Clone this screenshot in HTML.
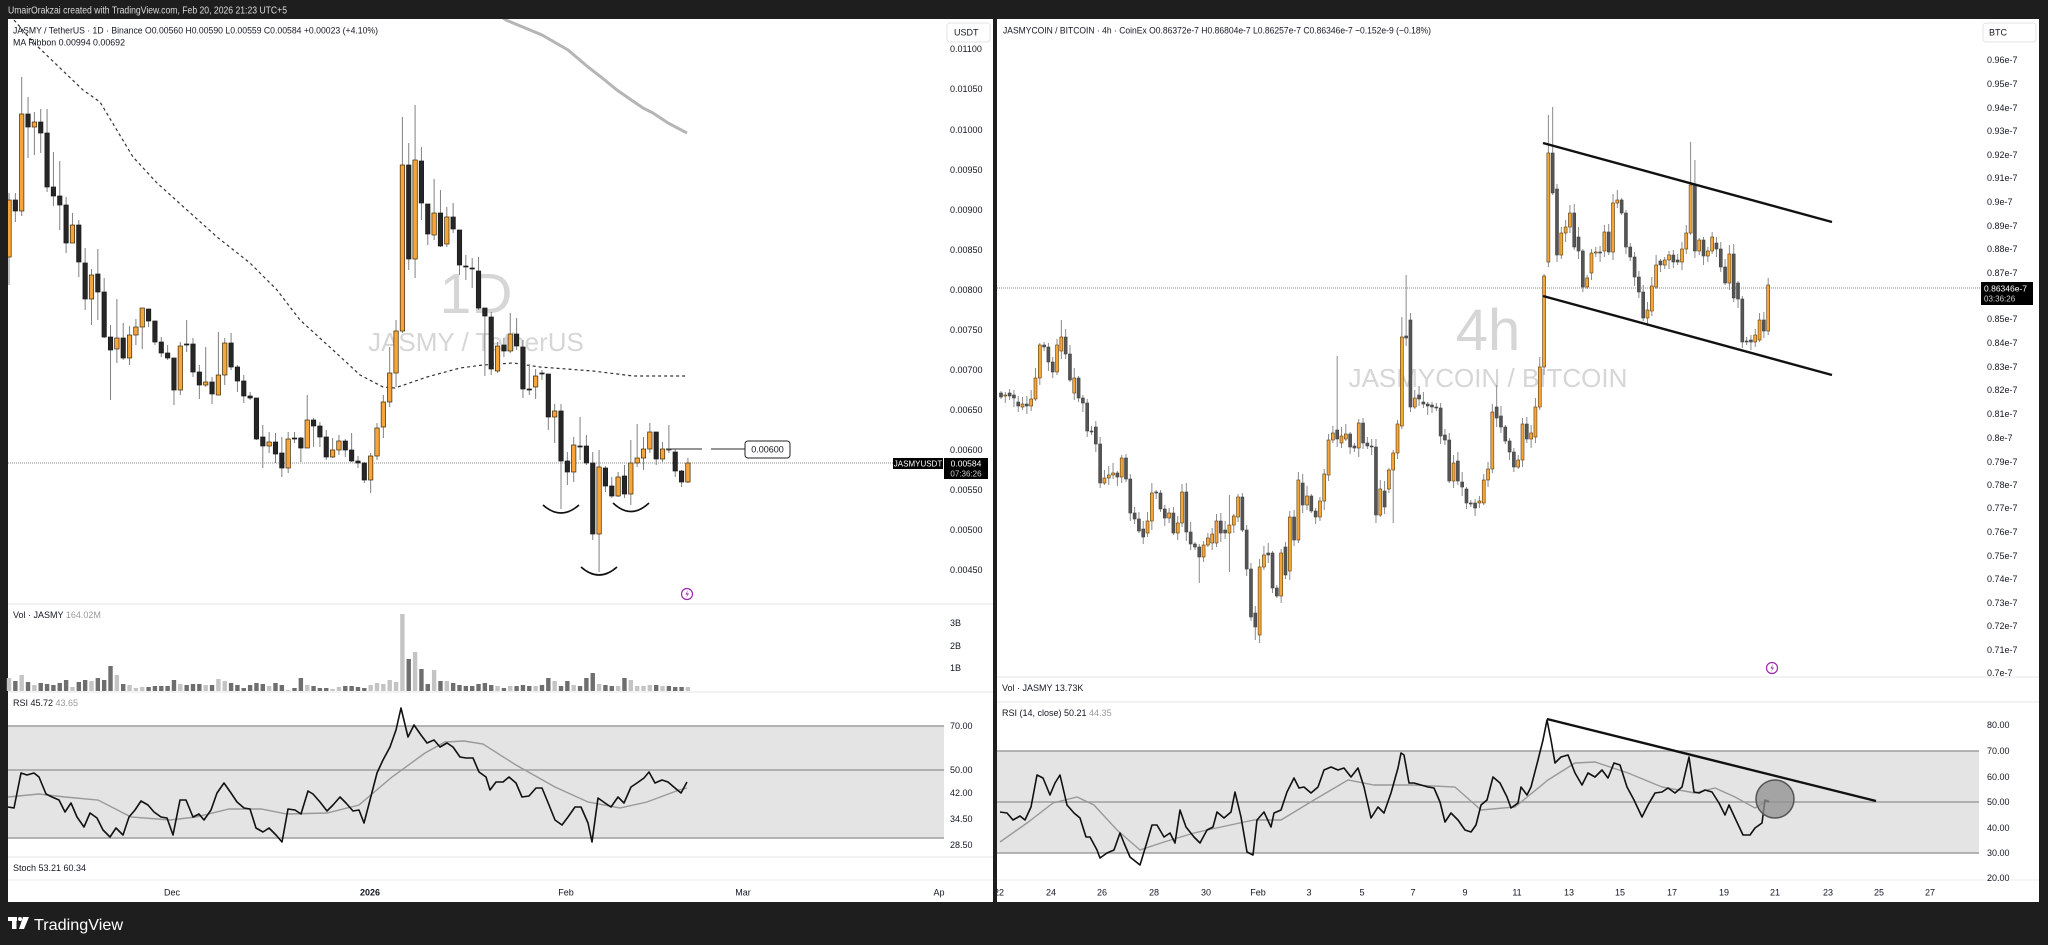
<!DOCTYPE html>
<html><head><meta charset="utf-8"><style>
html,body{margin:0;padding:0;background:#1e1e1e;width:2048px;height:945px;overflow:hidden}
svg{display:block}
text{font-family:"Liberation Sans",sans-serif}
.t{font-size:9px;fill:#131722}
.g{fill:#8a8a8a}
.wm{fill:#d6d6d6}
</style></head><body>
<svg id="s" width="2048" height="945" viewBox="0 0 2048 945" xmlns="http://www.w3.org/2000/svg">
<defs>
<clipPath id="cl"><rect x="8" y="19" width="936" height="585"/></clipPath>
<clipPath id="cr"><rect x="997" y="19" width="984" height="658"/></clipPath>
<clipPath id="crsiL"><rect x="8" y="693" width="985" height="164"/></clipPath>
<clipPath id="cxr"><rect x="997" y="880" width="1042" height="22"/></clipPath>
</defs>
<rect width="2048" height="945" fill="#1e1e1e"/>
<text x="8" y="13.5" font-size="10" fill="#dcdcdc" textLength="279" lengthAdjust="spacingAndGlyphs">UmairOrakzai created with TradingView.com, Feb 20, 2026 21:23 UTC+5</text>

<!-- LEFT PANEL -->
<rect x="8" y="19" width="985" height="883" fill="#ffffff"/>
<line x1="8" y1="604" x2="993" y2="604" stroke="#e6e6e6"/>
<line x1="8" y1="692" x2="993" y2="692" stroke="#e6e6e6"/>
<line x1="8" y1="857" x2="993" y2="857" stroke="#e6e6e6"/>
<line x1="8" y1="880" x2="993" y2="880" stroke="#ededed"/>

<g clip-path="url(#cl)">
<text x="476" y="313" font-size="57" text-anchor="middle" class="wm">1D</text>
<text x="476" y="351" font-size="26" text-anchor="middle" class="wm">JASMY / TetherUS</text>
<polyline fill="none" stroke="#b5b5b5" stroke-width="3" points="500,16 506,20 542,35 568,50 588,67 601,77 617,90 627,97 643,108 653,113 668,123 687,133"/>
<polyline fill="none" stroke="#333" stroke-width="1.2" stroke-dasharray="3,3" points="14,20 33,42 60,68 83,90 100,102 133,157 157,183 187,210 217,237 250,263 277,290 300,320 333,350 360,375 383,387 395,388 427,377 460,368 483,365 513,363 540,367 593,371 633,376 688,376"/>
<line x1="8" y1="463" x2="944" y2="463" stroke="#8a8a8a" stroke-dasharray="1,1"/>
<g id="candL"></g>
<path d="M543,505 Q561,521 579,505" fill="none" stroke="#111" stroke-width="1.6"/>
<path d="M613,503 Q631,520 649,503" fill="none" stroke="#111" stroke-width="1.6"/>
<path d="M581,567 Q599,583 617,567" fill="none" stroke="#111" stroke-width="1.6"/>
<line x1="666" y1="449" x2="702" y2="449" stroke="#555" stroke-width="1.2"/>
<line x1="711" y1="449" x2="745" y2="449" stroke="#555" stroke-width="1.2"/>
<rect x="745" y="441" width="45" height="17" rx="3" fill="#fff" stroke="#222" stroke-width="1"/>
<text x="767.5" y="452.5" font-size="9" text-anchor="middle" fill="#131722">0.00600</text>
<circle cx="687" cy="594" r="5.5" fill="#fff" stroke="#9c27b0" stroke-width="1.2"/>
<path d="M688,590 L685.5,594.5 L687.5,594.5 L686,598 L689,593.5 L687,593.5 Z" fill="#9c27b0"/>
</g>
<text x="13" y="33.5" font-size="9.5" fill="#131722" textLength="365" lengthAdjust="spacingAndGlyphs">JASMY / TetherUS · 1D · Binance  O0.00560  H0.00590  L0.00559  C0.00584  +0.00023 (+4.10%)</text>
<text x="13" y="45.5" font-size="9.5" fill="#131722" textLength="112" lengthAdjust="spacingAndGlyphs">MA Ribbon  0.00994  0.00692</text>

<!-- left price axis -->
<rect x="947" y="23" width="43" height="19" rx="3" fill="#fff" stroke="#e3e3e3"/>
<text x="954" y="35.5" class="t">USDT</text>
<g class="t">
<text x="950" y="52.2">0.01100</text>
<text x="950" y="92.2">0.01050</text>
<text x="950" y="133.2">0.01000</text>
<text x="950" y="173.2">0.00950</text>
<text x="950" y="213.2">0.00900</text>
<text x="950" y="253.2">0.00850</text>
<text x="950" y="293.2">0.00800</text>
<text x="950" y="333.2">0.00750</text>
<text x="950" y="373.2">0.00700</text>
<text x="950" y="413.2">0.00650</text>
<text x="950" y="453.2">0.00600</text>
<text x="950" y="493.2">0.00550</text>
<text x="950" y="533.2">0.00500</text>
<text x="950" y="573.2">0.00450</text>
</g>
<rect x="893" y="458" width="50" height="11" fill="#000"/>
<text x="918" y="466.5" font-size="8" text-anchor="middle" fill="#fff">JASMYUSDT</text>
<rect x="944" y="458" width="44" height="21" fill="#000"/>
<text x="966" y="466.5" font-size="8.5" text-anchor="middle" fill="#fff">0.00584</text>
<text x="966" y="476.5" font-size="8" text-anchor="middle" fill="#cfcfcf">07:36:26</text>

<!-- left volume -->
<g id="volL"></g>
<text x="13" y="618" font-size="9" fill="#131722">Vol · JASMY <tspan fill="#9a9a9a">164.02M</tspan></text>
<text x="950" y="626.2" class="t">3B</text>
<text x="950" y="649.2" class="t">2B</text>
<text x="950" y="671.2" class="t">1B</text>

<!-- left RSI -->
<rect x="8" y="726" width="936" height="112" fill="#e4e4e4"/>
<line x1="8" y1="726" x2="944" y2="726" stroke="#9e9e9e" stroke-width="1.5"/>
<line x1="8" y1="770" x2="944" y2="770" stroke="#9e9e9e" stroke-width="1.5"/>
<line x1="8" y1="838" x2="944" y2="838" stroke="#9e9e9e" stroke-width="1.5"/>
<polyline fill="none" stroke="#999" stroke-width="1.4" points="8,797 39,794 65,797 98,800 131,817 170,820 196,817 229,809 261,809 287,814 327,813 359,805 392,777 425,753 445,742 464,741 483,744 516,765 555,787 588,802 620,808 647,802 679,790 687,788"/>
<polyline fill="none" stroke="#111" stroke-width="1.6" stroke-linejoin="round" points="8,807 14,808 21,773 27,775 34,773 39,777 46,794 52,797 59,800 65,812 71,803 77,817 84,827 90,813 97,818 103,830 110,837 116,828 123,835 129,817 135,810 141,801 148,805 154,812 161,817 167,818 173,835 180,800 186,800 193,817 199,814 204,820 211,810 217,793 224,783 231,793 237,802 244,808 250,809 256,828 263,832 269,828 276,835 282,842 288,809 295,810 301,814 308,791 313,794 320,802 327,811 333,805 340,797 346,803 353,811 359,810 364,823 370,800 377,773 383,760 390,747 396,730 401,708 408,737 414,725 421,735 427,743 434,740 440,747 447,743 453,747 460,757 466,758 473,758 479,772 486,777 490,790 496,782 503,782 509,777 516,783 522,797 529,796 536,788 542,788 549,805 555,820 562,825 568,817 575,807 581,807 588,823 592,842 598,798 605,803 611,807 618,797 624,803 631,787 637,783 644,778 649,772 655,783 662,780 668,782 675,788 681,793 687,782"/>
<text x="13" y="706" font-size="9" fill="#131722">RSI  45.72  <tspan fill="#9a9a9a">43.65</tspan></text>
<g clip-path="url(#crsiL)"><text x="950" y="693" class="t">90.00</text></g>
<g class="t">
<text x="950" y="729.2">70.00</text>
<text x="950" y="773.2">50.00</text>
<text x="950" y="796.2">42.00</text>
<text x="950" y="822.2">34.50</text>
<text x="950" y="848.2">28.50</text>
</g>
<text x="13" y="871" font-size="9" fill="#131722">Stoch  53.21  60.34</text>
<g class="t" text-anchor="middle">
<text x="172" y="895.5">Dec</text>
<text x="370" y="895.5" font-weight="bold">2026</text>
<text x="566" y="895.5">Feb</text>
<text x="743" y="895.5">Mar</text>
<text x="939" y="895.5">Ap</text>
</g>

<!-- RIGHT PANEL -->
<rect x="997" y="19" width="1042" height="883" fill="#ffffff"/>
<line x1="997" y1="677" x2="2039" y2="677" stroke="#e6e6e6"/>
<line x1="997" y1="702" x2="2039" y2="702" stroke="#e6e6e6"/>
<line x1="997" y1="880" x2="2039" y2="880" stroke="#ededed"/>
<g clip-path="url(#cr)">
<text x="1488" y="350" font-size="58" text-anchor="middle" class="wm">4h</text>
<text x="1488" y="387" font-size="26" text-anchor="middle" class="wm">JASMYCOIN / BITCOIN</text>
<line x1="997" y1="288" x2="1981" y2="288" stroke="#8a8a8a" stroke-dasharray="1,1"/>
<g id="candR"></g>
<line x1="1543" y1="143" x2="1832" y2="222" stroke="#111" stroke-width="2.4"/>
<line x1="1543" y1="296" x2="1832" y2="375" stroke="#111" stroke-width="2.4"/>
<circle cx="1772" cy="668" r="5.5" fill="#fff" stroke="#9c27b0" stroke-width="1.2"/>
<path d="M1773,664 L1770.5,668.5 L1772.5,668.5 L1771,672 L1774,667.5 L1772,667.5 Z" fill="#9c27b0"/>
</g>
<text x="1003" y="33.5" font-size="9.5" fill="#131722" textLength="428" lengthAdjust="spacingAndGlyphs">JASMYCOIN / BITCOIN · 4h · CoinEx  O0.86372e-7  H0.86804e-7  L0.86257e-7  C0.86346e-7  −0.152e-9 (−0.18%)</text>
<rect x="1983" y="23" width="53" height="19" rx="3" fill="#fff" stroke="#e3e3e3"/>
<text x="1989" y="35.5" class="t">BTC</text>
<g class="t">
<text x="1987" y="63.2">0.96e-7</text>
<text x="1987" y="87.2">0.95e-7</text>
<text x="1987" y="111.2">0.94e-7</text>
<text x="1987" y="134.2">0.93e-7</text>
<text x="1987" y="158.2">0.92e-7</text>
<text x="1987" y="181.2">0.91e-7</text>
<text x="1987" y="205.2">0.9e-7</text>
<text x="1987" y="229.2">0.89e-7</text>
<text x="1987" y="252.2">0.88e-7</text>
<text x="1987" y="276.2">0.87e-7</text>
<text x="1987" y="322.2">0.85e-7</text>
<text x="1987" y="346.2">0.84e-7</text>
<text x="1987" y="370.2">0.83e-7</text>
<text x="1987" y="393.2">0.82e-7</text>
<text x="1987" y="417.2">0.81e-7</text>
<text x="1987" y="441.2">0.8e-7</text>
<text x="1987" y="465.2">0.79e-7</text>
<text x="1987" y="488.2">0.78e-7</text>
<text x="1987" y="511.2">0.77e-7</text>
<text x="1987" y="535.2">0.76e-7</text>
<text x="1987" y="559.2">0.75e-7</text>
<text x="1987" y="582.2">0.74e-7</text>
<text x="1987" y="606.2">0.73e-7</text>
<text x="1987" y="629.2">0.72e-7</text>
<text x="1987" y="653.2">0.71e-7</text>
<text x="1987" y="676.2">0.7e-7</text>
</g>
<rect x="1981" y="282" width="52" height="23" fill="#000"/>
<text x="1984" y="291.5" font-size="8.5" fill="#fff">0.86346e-7</text>
<text x="1984" y="301.5" font-size="8" fill="#cfcfcf">03:36:26</text>

<text x="1002" y="691" font-size="9" fill="#131722">Vol · JASMY  13.73K</text>

<!-- right RSI -->
<rect x="997" y="751" width="982" height="102" fill="#e4e4e4"/>
<line x1="997" y1="751" x2="1979" y2="751" stroke="#9e9e9e" stroke-width="1.5"/>
<line x1="997" y1="802" x2="1979" y2="802" stroke="#9e9e9e" stroke-width="1.5"/>
<line x1="997" y1="853" x2="1979" y2="853" stroke="#9e9e9e" stroke-width="1.5"/>
<polyline fill="none" stroke="#999" stroke-width="1.4" points="1000,842 1027,823 1053,803 1077,797 1094,805 1117,830 1140,850 1164,842 1194,833 1221,827 1254,820 1281,820 1314,800 1348,780 1374,785 1414,785 1455,787 1481,810 1515,807 1548,780 1575,763 1595,762 1628,773 1662,787 1695,793 1715,788 1735,797 1755,808 1769,800"/>
<polyline fill="none" stroke="#111" stroke-width="1.6" stroke-linejoin="round" points="1000,812 1007,813 1013,820 1020,816 1025,820 1031,807 1037,775 1043,778 1050,795 1055,783 1060,775 1067,805 1074,813 1080,818 1086,837 1090,837 1097,850 1100,858 1107,853 1114,850 1120,833 1124,843 1130,857 1140,865 1147,842 1152,825 1157,825 1164,837 1170,833 1175,843 1180,810 1186,827 1194,837 1200,843 1207,830 1213,827 1217,812 1224,818 1231,812 1235,792 1241,817 1247,852 1253,855 1257,820 1264,812 1271,827 1274,813 1281,810 1287,792 1294,778 1299,788 1304,787 1311,793 1318,787 1324,770 1331,767 1338,770 1344,768 1351,777 1358,768 1364,787 1371,818 1378,807 1384,813 1391,793 1398,768 1401,753 1404,755 1409,783 1414,783 1421,785 1428,787 1434,788 1440,802 1445,822 1451,813 1458,820 1465,830 1471,832 1476,825 1481,805 1487,800 1493,777 1500,783 1507,797 1511,808 1518,803 1521,787 1527,795 1531,787 1538,760 1543,740 1547,720 1551,740 1555,763 1561,757 1568,755 1575,773 1582,785 1588,773 1595,777 1602,770 1608,778 1614,763 1620,765 1627,787 1634,800 1642,817 1648,805 1655,793 1662,792 1668,788 1675,793 1682,787 1689,757 1694,792 1699,793 1705,790 1712,792 1719,803 1725,815 1729,805 1735,818 1743,835 1750,835 1755,828 1762,823 1765,800 1769,802"/>
<line x1="1547" y1="719" x2="1876" y2="801" stroke="#111" stroke-width="2.4"/>
<circle cx="1775" cy="799" r="19" fill="#8f8f8f" fill-opacity="0.75" stroke="#555" stroke-width="1.5"/>
<text x="1002" y="716" font-size="9" fill="#131722">RSI (14, close)  50.21  <tspan fill="#9a9a9a">44.35</tspan></text>
<g class="t">
<text x="1987" y="728.2">80.00</text>
<text x="1987" y="754.2">70.00</text>
<text x="1987" y="780.2">60.00</text>
<text x="1987" y="805.2">50.00</text>
<text x="1987" y="831.2">40.00</text>
<text x="1987" y="856.2">30.00</text>
<text x="1987" y="881.2">20.00</text>
</g>
<g class="t" text-anchor="middle" clip-path="url(#cxr)">
<text x="999" y="895.5">22</text>
<text x="1051" y="895.5">24</text>
<text x="1102" y="895.5">26</text>
<text x="1154" y="895.5">28</text>
<text x="1206" y="895.5">30</text>
<text x="1258" y="895.5">Feb</text>
<text x="1309" y="895.5">3</text>
<text x="1362" y="895.5">5</text>
<text x="1413" y="895.5">7</text>
<text x="1465" y="895.5">9</text>
<text x="1517" y="895.5">11</text>
<text x="1569" y="895.5">13</text>
<text x="1620" y="895.5">15</text>
<text x="1672" y="895.5">17</text>
<text x="1724" y="895.5">19</text>
<text x="1775" y="895.5">21</text>
<text x="1828" y="895.5">23</text>
<text x="1879" y="895.5">25</text>
<text x="1930" y="895.5">27</text>
</g>

<!-- bottom logo -->
<g fill="#ffffff">
<rect x="8" y="917" width="9" height="4"/>
<rect x="12" y="917" width="4.5" height="12"/>
<circle cx="20" cy="919" r="2"/>
<polygon points="23,917 29,917 24,929 19,929"/>
</g>
<text x="34" y="930" font-size="16" fill="#ffffff" textLength="89" lengthAdjust="spacingAndGlyphs">TradingView</text>
</svg>
<script>
(function(){
var NS='http://www.w3.org/2000/svg';
function mk(p,t,a){var e=document.createElementNS(NS,t);for(var k in a)e.setAttribute(k,a[k]);p.appendChild(e);return e;}
var L=[[200,257,1,193,285],[200,211,0,193,222],[114,211,1,77,216],[114,127,0,97,158],[122,127,1,112,155],[122,133,0,109,153],[133,187,0,109,192],[187,196,0,152,206],[196,205,0,161,230],[205,243,0,197,253],
[225,243,1,213,243],[225,262,0,220,277],[263,299,0,248,310],[275,299,1,269,325],[274,292,0,249,320],[292,337,0,278,338],[337,350,0,325,400],[338,349,1,299,363],[338,358,0,323,360],[335,358,1,326,365],
[327,335,1,319,345],[308,327,1,308,349],[309,321,0,309,327],[321,342,0,321,345],[342,353,0,337,357],[353,358,0,345,360],[358,390,0,358,405],[346,390,1,342,395],[344,345,0,320,352],[344,372,0,338,377],
[372,385,0,365,399],[382,385,1,347,387],[382,394,0,377,404],[375,395,1,332,395],[343,375,1,338,385],[343,367,0,333,370],[367,381,0,365,392],[381,396,0,375,403],[396,398,0,392,400],[398,439,0,398,440],
[437,446,0,425,468],[442,446,1,432,453],[442,454,0,433,463],[453,468,0,437,477],[439,468,1,432,473],[438,439,0,432,443],[438,448,0,437,462],[420,448,1,395,448],[420,426,0,418,447],[426,437,0,422,447],
[437,457,0,430,460],[450,457,1,438,458],[441,450,1,435,455],[441,450,0,439,457],[450,461,0,433,462],[461,463,0,456,468],[463,480,0,462,483],[456,480,1,453,493],[428,456,1,423,460],[402,427,1,395,438],
[373,402,1,347,407],[331,373,1,320,387],[165,331,1,117,333],[165,259,0,143,270],[160,259,1,105,278],[161,203,0,147,220],[204,234,0,204,245],[213,235,1,179,240],[213,246,0,190,247],[217,244,1,207,247],
[217,229,0,203,233],[230,265,0,230,275],[266,267,0,255,280],[268,269,0,258,288],[271,308,0,257,310],[308,316,0,308,376],[317,369,0,312,375],[346,371,1,342,373],[345,351,0,338,357],[334,351,1,313,353],
[334,346,0,318,350],[347,389,0,340,398],[389,390,0,364,395],[376,387,1,369,399],[373,374,0,370,380],[374,417,0,374,430],[411,417,1,404,443],[411,461,0,404,509],[461,472,0,452,485],[445,472,1,437,482],
[446,447,0,417,460],[446,463,0,435,465],[463,534,0,452,540],[467,534,1,450,572],[468,486,0,466,492],[486,496,0,477,498],[477,496,1,472,497],[476,494,0,465,498],[463,494,1,440,505],[458,463,1,424,467],
[449,458,1,437,470],[432,449,1,423,453],[432,459,0,432,465],[449,459,1,442,462],[449,450,0,425,453],[452,471,0,449,477],[471,482,0,470,487],[463,482,1,458,483]];
var V=[13,10,16,9,6,8,7,6,8,11,4,9,11,10,13,11,25,16,7,6,3,4,4,5,5,5,11,7,6,7,7,6,6,12,10,8,6,3,6,8,7,5,8,6,1,3,13,6,5,3,3,2,4,5,5,4,3,6,8,7,11,9,77,32,39,22,7,21,10,10,8,6,5,5,7,8,6,5,3,5,5,6,5,5,6,13,10,5,10,6,5,13,18,7,6,5,5,13,11,5,5,6,6,5,5,4,4,4];
var gl=document.getElementById('candL'),gv=document.getElementById('volL');
for(var i=0;i<L.length;i++){var c=L[i],x=9+i*6.345;
 mk(gl,'line',{x1:x,x2:x,y1:c[3],y2:c[4],stroke:'#808080','stroke-width':1});
 mk(gl,'rect',{x:x-2.2,y:c[0],width:4.4,height:Math.max(1,c[1]-c[0]),fill:c[2]?'#f5a53a':'#262626',stroke:c[2]?'#3d2a0a':'#1a1a1a','stroke-width':0.7});
 if(i<V.length) mk(gv,'rect',{x:x-2.2,y:691-V[i],width:4.4,height:V[i],fill:c[2]?'#c4c4c4':'#6e6e6e'});
}
var R=[[393,397,0],[395,396,1],[393,396,0],[395,398,0],[402,406,0],[404,407,1],[404,406,0],[399,406,1],[378,399,1],[345,378,1],
[345,347,0],[347,362,0],[362,372,0],[345,372,1],[337,351,1],[337,354,0],[354,380,0],[378,393,1],[378,398,0],[398,403,0],
[403,431,0],[431,432,0],[427,444,0],[444,483,0],[478,483,1],[475,478,1],[473,475,1],[473,477,0],[458,477,1],[458,479,0],
[479,513,0],[513,519,0],[519,531,0],[529,537,0],[521,533,1],[493,521,1],[492,493,0],[493,509,0],[509,518,0],[513,518,1],
[513,533,0],[523,533,1],[492,523,1],[492,532,0],[532,544,0],[544,547,0],[547,557,0],[545,557,1],[538,545,1],[534,543,1],
[521,543,1],[521,533,0],[530,533,0],[525,533,1],[516,525,1],[497,517,1],[497,530,0],[530,569,0],[569,617,0],[613,627,0],
[567,635,1],[555,567,1],[553,555,0],[553,588,0],[588,596,0],[553,596,1],[547,575,0],[517,571,1],[517,540,0],[480,540,1],
[483,505,0],[496,505,1],[496,511,0],[511,517,0],[501,517,1],[474,501,1],[440,475,1],[433,440,1],[430,439,0],[436,443,1],
[434,439,1],[434,447,0],[446,448,0],[423,448,1],[423,443,0],[443,446,0],[446,447,0],[447,515,0],[489,515,1],[491,507,0],
[470,489,1],[453,470,1],[424,453,1],[337,426,1],[336,338,0],[320,407,0],[398,407,1],[395,399,0],[402,404,0],[404,406,0],
[405,407,0],[407,408,0],[408,436,0],[435,440,0],[440,481,0],[463,481,1],[461,481,0],[482,487,0],[489,503,0],[503,504,0],
[503,508,0],[501,503,1],[480,503,1],[469,480,1],[412,469,1],[407,418,0],[416,427,0],[427,441,0],[441,452,0],[452,467,0],
[460,467,1],[424,460,1],[424,439,0],[433,439,1],[407,437,1],[367,407,1],[276,367,1],[153,262,1],[153,193,0],[189,255,0],
[233,255,1],[227,233,1],[213,227,1],[213,247,0],[237,251,0],[251,287,0],[278,287,1],[253,273,1],[252,253,1],[252,253,0],
[232,251,1],[232,252,0],[203,252,1],[200,203,1],[200,213,0],[213,247,0],[247,257,0],[257,277,0],[277,292,0],[292,318,0],
[310,318,1],[286,311,1],[265,287,1],[261,265,0],[260,265,1],[255,260,1],[255,262,0],[260,262,0],[249,262,1],[233,249,1],
[185,233,1],[185,251,0],[240,251,1],[240,256,0],[251,256,1],[237,251,1],[243,249,0],[249,267,0],[267,283,0],[254,283,1],
[254,298,0],[283,299,0],[299,342,0],[341,342,0],[340,342,0],[335,342,1],[320,340,1],[320,331,0],[285,331,1]];
var OV={14:[320,0],46:[0,583],53:[495,572],60:[0,643],59:[0,640],78:[356,0],87:[0,523],91:[0,523],93:[317,0],94:[275,0],115:[385,0],127:[115,0],128:[107,0],160:[142,0],161:[160,0],178:[278,0]};
var gr=document.getElementById('candR');
for(var j=0;j<R.length;j++){var d=R[j],xx=1001+j*4.31;
 var wt=d[0]-((j*37)%9)-2, wb=d[1]+((j*53)%8)+2;
 if(OV[j]){if(OV[j][0])wt=OV[j][0];if(OV[j][1])wb=OV[j][1];}
 mk(gr,'line',{x1:xx,x2:xx,y1:wt,y2:wb,stroke:'#8a8a8a','stroke-width':1});
 mk(gr,'rect',{x:xx-1.5,y:d[0],width:3,height:Math.max(1,d[1]-d[0]),fill:d[2]?'#f5a53a':'#555555',stroke:d[2]?'#5a3d10':'#444444','stroke-width':0.6});
}
})();
</script>
</body></html>
